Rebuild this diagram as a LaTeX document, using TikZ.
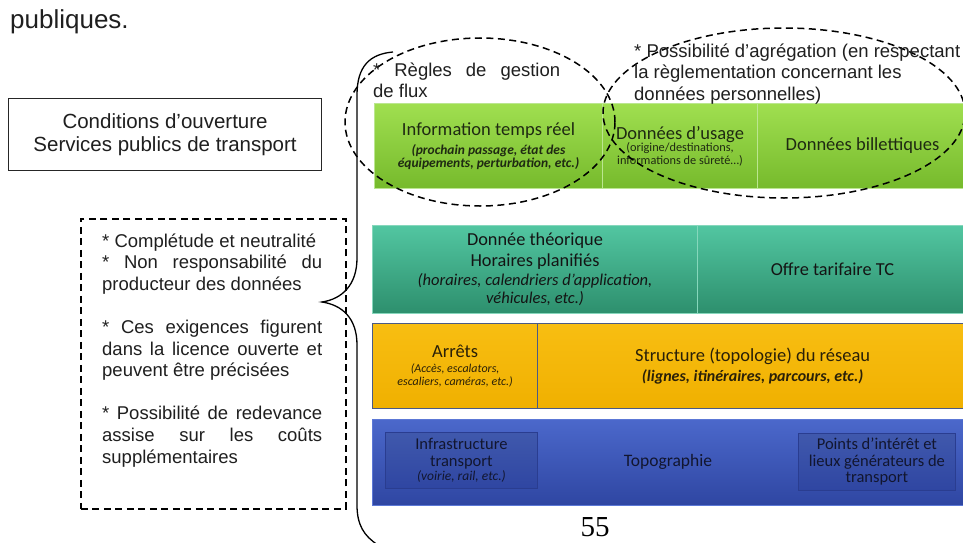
\documentclass[tikz,border=0pt]{standalone}
\usepackage{fontspec}
\setmainfont{Liberation Sans}
\newfontfamily\blkfont{Carlito}
\newfontfamily\serfont{Liberation Serif}
\usetikzlibrary{shapes.geometric}
\definecolor{grnT}{HTML}{A0DF50}
\definecolor{grnD}{HTML}{76BA2C}
\definecolor{grnB}{HTML}{BBE690}
\definecolor{grnTx}{HTML}{1F2A12}
\definecolor{tlT}{HTML}{52C6A1}
\definecolor{tlD}{HTML}{2D8F6D}
\definecolor{tlB}{HTML}{86D7BC}
\definecolor{ylT}{HTML}{F8BE12}
\definecolor{ylD}{HTML}{F0B000}
\definecolor{ylB}{HTML}{4A5A86}
\definecolor{ylTx}{HTML}{2A2008}
\definecolor{blT}{HTML}{4B68CB}
\definecolor{blD}{HTML}{2F46A2}
\definecolor{blB}{HTML}{5C78D6}
\definecolor{blIn}{HTML}{2A3D90}
\definecolor{blTx}{HTML}{12162F}
\newcommand\subgi{\fontsize{13.5}{14}\selectfont\bfseries\itshape}
\newcommand\subsm{\fontsize{12.3}{13}\selectfont}
\newcommand\subti{\fontsize{16.5}{17}\selectfont\itshape}
\newcommand\subyi{\fontsize{12}{13}\selectfont\itshape}
\newcommand\subsi{\fontsize{16}{17}\selectfont\bfseries\itshape}
\newcommand\subbi{\fontsize{13.5}{14}\selectfont\itshape}
\tikzset{
  cellbase/.style={anchor=north west, inner sep=0pt, align=center,
    font=\blkfont\fontsize{18.5}{19}\selectfont},
  gcell/.style={cellbase, draw=grnB, line width=1pt, top color=grnT,
    bottom color=grnD, text=grnTx, minimum height=85pt},
  tcell/.style={cellbase, draw=tlB, line width=1pt, top color=tlT,
    bottom color=tlD, text=black!92, minimum height=88pt,
    font=\blkfont\fontsize{18.3}{18.5}\selectfont},
  ycell/.style={cellbase, draw=ylB, line width=1.2pt, top color=ylT,
    bottom color=ylD, text=ylTx, minimum height=85pt},
  bcell/.style={cellbase, draw=blB, line width=1pt, top color=blT,
    bottom color=blD, minimum height=86pt},
  bin/.style={cellbase, draw=blIn, line width=0.8pt, top color=blT!85!black,
    bottom color=blD, text=blTx, font=\blkfont\fontsize{16.5}{17.5}\selectfont},
  dashline/.style={black, line width=1.5pt, dash pattern=on 7pt off 4.5pt},
  dashell/.style={dashline, ellipse, draw, inner sep=0pt},
  note/.style={font=\fontsize{18.5}{21.6}\selectfont, inner sep=0pt,
    anchor=base west, text=black!88},
}
\begin{document}
\begin{tikzpicture}[x=1pt,y=-1pt]
\clip (0,0) rectangle (963,543);
\fill[white] (0,0) rectangle (963,543);

% body text
\node[font=\fontsize{26}{30}\selectfont, anchor=base west, inner sep=0pt,
  text=black!88] (pub) at (10,29) {publiques.};

% conditions box
\node[draw=black!85, line width=1.2pt, minimum width=313pt, minimum height=72pt,
  anchor=north west, align=center, inner sep=0pt, text=black!88,
  font=\fontsize{20.5}{23}\selectfont] (cbox) at (8,98)
  {Conditions d’ouverture\\Services publics de transport};

% green row
\node[gcell, minimum width=228pt] (itr) at (374,103)
  {Information temps réel\\[0pt]{\subgi (prochain passage, état des}\\[-6pt]{\subgi équipements, perturbation, etc.)}};
\node[gcell, minimum width=155pt] (use) at (602,103)
  {Données d’usage\\[-7pt]{\subsm (origine/destinations,}\\[-6pt]{\subsm informations de sûreté…)}};
\node[gcell, minimum width=210pt] (bil) at (757,103) {Données billettiques};

% teal row
\node[tcell, minimum width=325pt] (theo) at (372,225)
  {Donnée théorique\\[2.5pt]Horaires planifiés\\[0pt]{\subti (horaires, calendriers d’application,}\\[0pt]{\subti véhicules, etc.)}};
\node[tcell, minimum width=270pt] (tarif) at (697,225) {Offre tarifaire TC};

% yellow row
\node[ycell, minimum width=165pt] (arr) at (372,323)
  {Arrêts\\[-4pt]{\subyi (Accès, escalators,}\\[-6pt]{\subyi escaliers, caméras, etc.)}};
\node[ycell, minimum width=430pt] (struc) at (537,323)
  {Structure (topologie) du réseau\\[1pt]{\subsi (lignes, itinéraires, parcours, etc.)}};

% blue row
\node[bcell, minimum width=595pt] (topo) at (372,419) {};
\node[bin, minimum width=152pt, minimum height=56pt] (infra) at (385,432)
  {Infrastructure\\[-1pt]transport\\[-3pt]{\subbi (voirie, rail, etc.)}};
\node[bin, minimum width=157pt, minimum height=57pt] (poi) at (798,433)
  {Points d’intérêt et\\[-1pt]lieux générateurs de\\[-1pt]transport};
\node[font=\blkfont\fontsize{17.5}{19}\selectfont, text=blTx, inner sep=0pt]
  (topot) at (668,462) {Topographie};

% dashed ellipses
\node[dashell, minimum width=270pt, minimum height=168pt] (e1) at (480,122) {};
\node[dashell, minimum width=362pt, minimum height=170pt] (e2) at (784,113) {};

% annotations
\node[note] (regles) at (373,76)
  {\parbox[t]{187pt}{\raggedright\makebox[187pt][s]{* Règles de gestion}\\de flux}};
\node[note] (agreg) at (634,57)
  {\parbox[t]{400pt}{\raggedright * Possibilité d’agrégation (en respectant\\la règlementation concernant les\\données personnelles)}};

% requirements box
\node[dashline, draw, minimum width=265pt, minimum height=290pt,
  anchor=north west, inner sep=0pt] (req) at (80,218) {};
\node[note] (reqt) at (102,247) {\parbox[t]{220pt}{\raggedright
  * Complétude et neutralité\\
  \makebox[220pt][s]{* Non responsabilité du}\\
  producteur des données\\[21.6pt]
  \makebox[220pt][s]{* Ces exigences figurent}\\
  \makebox[220pt][s]{dans la licence ouverte et}\\
  peuvent être précisées\\[21.6pt]
  \makebox[220pt][s]{* Possibilité de redevance}\\
  \makebox[220pt][s]{assise sur les coûts}\\
  supplémentaires}};

% brace
\coordinate (brTop) at (393,52);
\coordinate (brTip) at (322,302);
\coordinate (brBot) at (378,545);
\draw[line width=1.3pt] (brTop) .. controls (370,54) and (357,66) .. (357,95)
  -- (357,258) .. controls (357,285) and (342,299) .. (brTip)
  .. controls (342,305) and (357,318) .. (357,345)
  -- (357,505) .. controls (357,525) and (364,536) .. (brBot);

% page number
\node[font=\serfont\fontsize{29}{32}\selectfont, anchor=base, inner sep=0pt]
  (pg) at (595,536) {55};
\end{tikzpicture}
\end{document}
